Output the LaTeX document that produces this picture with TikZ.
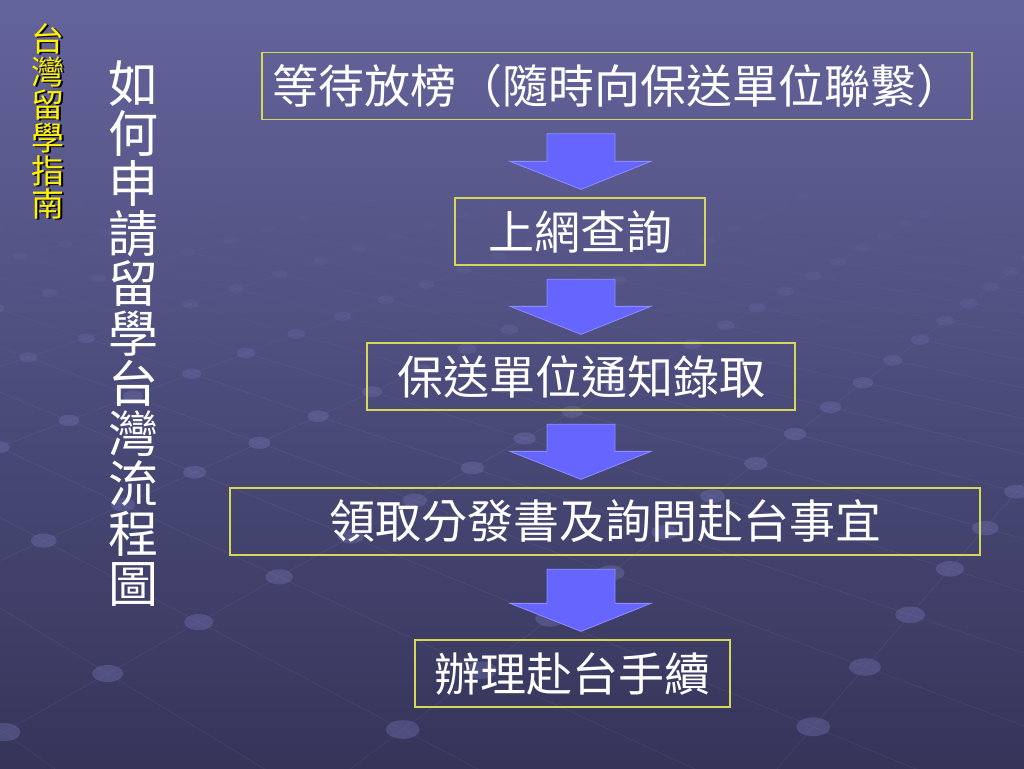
\documentclass[tikz,border=0pt]{standalone}
\usepackage{fontspec}
\newfontfamily\cjk{Noto Sans CJK TC}
\usetikzlibrary{calc}
\definecolor{bgtop}{HTML}{64649C}
\definecolor{bgmid}{HTML}{4C4C7C}
\definecolor{bgbot}{HTML}{35355A}
\definecolor{dotcol}{HTML}{7474B4}
\definecolor{boxline}{HTML}{D6D65A}
\definecolor{arrowfill}{HTML}{6666FF}
\definecolor{arrowedge}{HTML}{8C8CFF}
\tikzset{
  stepbox/.style={draw=boxline, line width=1.3pt, inner sep=0pt, text=white,
    font=\cjk\fontsize{46}{46}\selectfont, minimum height=67pt},
  blockarrow/.style={fill=arrowfill, draw=arrowedge, line width=0.8pt, line join=miter},
  vertyellow/.style={font=\cjk\fontsize{33}{33}\selectfont, align=center, inner sep=0pt, text=yellow},
  vertwhite/.style={font=\cjk\fontsize{50}{50}\selectfont, align=center, inner sep=0pt, text=white},
}
\newcommand\blockarrow[2]{%
  \path (axis |- #1.south) ++(0,13.5) coordinate (at#1);
  \path (axis |- #2.north) ++(0,-8) coordinate (tip#2);
  \filldraw[blockarrow] ($(at#1)+(-34,0)$) -- ($(at#1)+(34,0)$) -- ($(tip#2)+(34,-28)$)
    -- ($(tip#2)+(70,-28)$) -- (tip#2) -- ($(tip#2)+(-71,-28)$) -- ($(tip#2)+(-34,-28)$) -- cycle;
}
\begin{document}
\begin{tikzpicture}[x=1pt,y=-1pt]
\useasboundingbox (0,0) rectangle (1024,768);
% background
\shade[top color=bgtop, bottom color=bgbot, middle color=bgmid] (0,0) rectangle (1024,768);
\begin{scope}
\clip (0,0) rectangle (1024,768);
% grid lines
\foreach \u in {-8,...,20}{
  \foreach \v in {-6,-4,...,22}{
    \pgfmathsetmacro\wa{1+0.068*\u+0.0747*\v}
    \ifdim\wa pt>0.45pt
      \pgfmathsetmacro\xa{(865+107.03*\u-81.57*\v)/\wa}
      \pgfmathsetmacro\ya{(667-10.40*\u-4.26*\v)/\wa}
      \pgfmathsetmacro\op{min(1,max(0,(\ya-180)/280))}
      \pgfmathsetmacro\wb{\wa+0.068}
      \pgfmathsetmacro\xb{(865+107.03*(\u+1)-81.57*\v)/\wb}
      \pgfmathsetmacro\yb{(667-10.40*(\u+1)-4.26*\v)/\wb}
      \pgfmathsetmacro\wc{\wa+0.1494}
      \pgfmathsetmacro\xc{(865+107.03*\u-81.57*(\v+2))/\wc}
      \pgfmathsetmacro\yc{(667-10.40*\u-4.26*(\v+2))/\wc}
      \draw[white, opacity=0.06*\op, line width=0.7pt] (\xb,\yb) -- (\xa,\ya) -- (\xc,\yc);
    \fi
  }
}
% dots
\foreach \u in {-8,...,20}{
  \foreach \v in {-6,-4,...,22}{
    \pgfmathsetmacro\wa{1+0.068*\u+0.0747*\v}
    \ifdim\wa pt>0.45pt
      \pgfmathsetmacro\xa{(865+107.03*\u-81.57*\v)/\wa}
      \pgfmathsetmacro\ya{(667-10.40*\u-4.26*\v)/\wa}
      \ifdim\xa pt>-40pt \ifdim\xa pt<1070pt \ifdim\ya pt>80pt \ifdim\ya pt<800pt
        \pgfmathsetmacro\op{min(1,max(0,(\ya-170)/260))}
        \pgfmathsetmacro\rx{min(17,16/\wa)}
        \pgfmathsetmacro\ry{\rx*0.55}
        \fill[dotcol, opacity=0.38*\op] (\xa,\ya) ellipse [x radius=\rx pt, y radius=\ry pt];
      \fi\fi\fi\fi
    \fi
  }
}
\end{scope}
\coordinate (axis) at (581,0);
% left titles
\node[vertyellow, text=black] (subshadow) at (49.5,122.5) {台\\灣\\留\\學\\指\\南};
\node[vertyellow] (sub) at (48,121) {台\\灣\\留\\學\\指\\南};
\node[vertwhite] (title) at (133,334) {如\\何\\申\\請\\留\\學\\台\\灣\\流\\程\\圖};
% steps
\node[stepbox, minimum width=710pt] (b1) at (617,86) {等待放榜（隨時向保送單位聯繫）};
\node[stepbox, minimum width=250pt] (b2) at (580,231.5) {上網查詢};
\node[stepbox, minimum width=428pt] (b3) at (581,376.5) {保送單位通知錄取};
\node[stepbox, minimum width=750pt] (b4) at (605,521.5) {領取分發書及詢問赴台事宜};
\node[stepbox, minimum width=315pt] (b5) at (572.5,673.5) {辦理赴台手續};
% arrows
\blockarrow{b1}{b2}
\blockarrow{b2}{b3}
\blockarrow{b3}{b4}
\blockarrow{b4}{b5}
\end{tikzpicture}
\end{document}
